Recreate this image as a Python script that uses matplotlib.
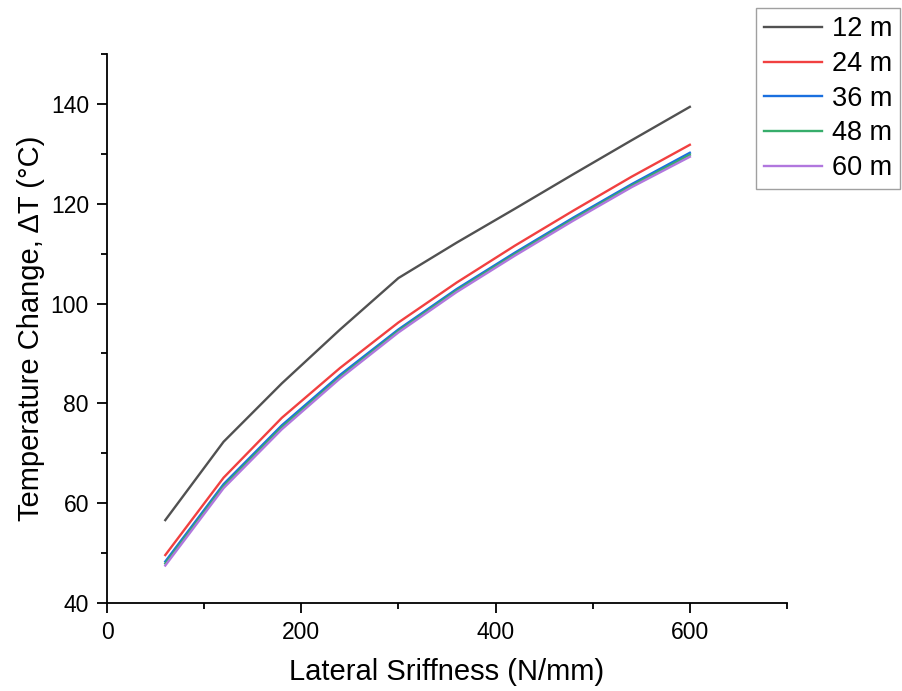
import matplotlib
matplotlib.use("Agg")
import matplotlib.pyplot as plt
from matplotlib.ticker import MultipleLocator

plt.rcParams['font.family'] = ['Liberation Sans', 'DejaVu Sans']

# lateral stiffness (N/mm)
stiffness = [60, 120, 180, 240, 300, 360, 420, 480, 540, 600]

# temperature change for each length
dT_12 = [56.6, 72.3, 84.0, 94.8, 105.1, 112.2, 119.0, 125.9, 132.7, 139.4]
dT_24 = [49.6, 65.1, 77.1, 87.1, 96.2, 104.2, 111.6, 118.6, 125.4, 131.8]
dT_36 = [48.3, 63.8, 75.6, 85.7, 94.8, 102.9, 110.2, 117.2, 123.9, 130.2]
dT_48 = [47.9, 63.4, 75.2, 85.3, 94.5, 102.6, 109.9, 116.9, 123.6, 129.8]
dT_60 = [47.5, 63.0, 74.8, 85.0, 94.2, 102.3, 109.6, 116.6, 123.3, 129.4]

labels = ['12 m', '24 m', '36 m', '48 m', '60 m']
colors = ['#515151', '#F14040', '#1A6FDF', '#37AD6B', '#B177DE']
series = [dT_12, dT_24, dT_36, dT_48, dT_60]

fig = plt.figure(figsize=(9.03, 6.91), dpi=100)
ax = fig.add_axes([0.1185, 0.1274, 0.753, 0.7945])

for ys, lab, c in zip(series, labels, colors):
    ax.plot(stiffness, ys, color=c, lw=1.7, label=lab)

ax.set_xlim(0, 700)
ax.set_ylim(40, 150)
ax.xaxis.set_major_locator(MultipleLocator(200))
ax.xaxis.set_minor_locator(MultipleLocator(100))
ax.yaxis.set_major_locator(MultipleLocator(20))
ax.yaxis.set_minor_locator(MultipleLocator(10))

for s in ['top', 'right']:
    ax.spines[s].set_visible(False)
for s in ['left', 'bottom']:
    ax.spines[s].set_linewidth(1.3)

ax.tick_params(which='major', direction='out', length=7, width=1.3, labelsize=16.5, pad=6)
ax.tick_params(which='minor', direction='out', length=4, width=1.3)

ax.set_xlabel('Lateral Sriffness (N/mm)', fontsize=21, labelpad=10)
ax.set_ylabel('Temperature Change, ΔT (°C)', fontsize=21, labelpad=4)

leg = ax.legend(loc='upper left', bbox_to_anchor=(0.837, 0.988), bbox_transform=fig.transFigure,
                fontsize=19.5, frameon=True, fancybox=False, borderaxespad=0,
                handlelength=2.15, handletextpad=0.35, labelspacing=0.32, borderpad=0.3)
leg.get_frame().set_edgecolor('#888888')
leg.get_frame().set_linewidth(1.0)

fig.savefig('out.png', dpi=100)
